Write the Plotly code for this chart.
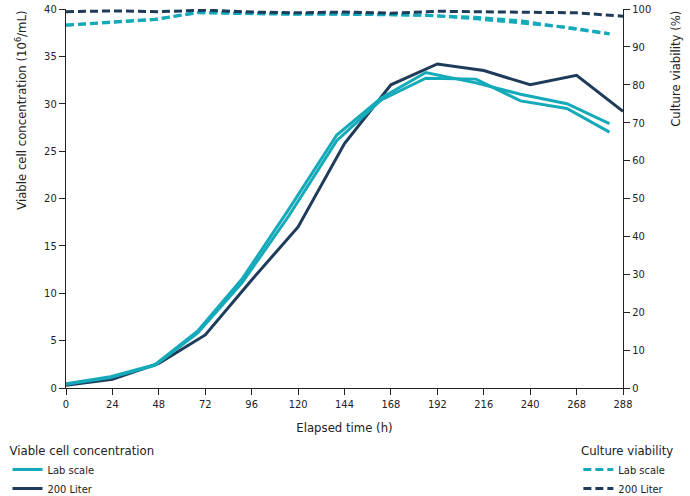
import plotly.graph_objects as go

# ---- data ----
time_200L = [0, 24, 48, 72, 96, 120, 144, 168, 192, 216, 240, 264, 288]
time_lab = [0, 23, 46, 68, 91, 115, 140, 163, 186, 212, 235, 259, 281]

vcc_200L = [0.3, 0.92, 2.6, 5.6, 11.4, 17.0, 25.8, 32.0, 34.2, 33.5, 32.0, 33.0, 29.2]
vcc_lab1 = [0.45, 1.2, 2.45, 6.0, 11.5, 18.8, 26.7, 30.6, 33.3, 32.2, 31.0, 30.0, 27.9]
vcc_lab2 = [0.4, 1.1, 2.4, 5.8, 11.1, 18.1, 26.1, 30.4, 32.7, 32.6, 30.3, 29.5, 27.0]

via_200L = [99.3, 99.5, 99.3, 99.7, 99.2, 99.0, 99.2, 98.9, 99.4, 99.3, 99.2, 99.0, 98.1]
via_lab1 = [95.8, 96.5, 97.3, 99.1, 98.9, 98.7, 98.6, 98.5, 98.3, 97.8, 96.9, 95.0, 93.4]
via_lab2 = [95.7, 96.5, 97.2, 99.0, 98.8, 98.6, 98.7, 98.6, 98.4, 97.4, 96.3, 95.2, 93.5]

x_tickvals = [0, 24, 48, 72, 96, 120, 144, 168, 192, 216, 240, 264, 288]
x_ticktext = ["0", "24", "48", "72", "96", "120", "144", "168", "192", "216", "240", "268", "288"]

TEAL = "#14aab9"
NAVY = "#1f3b5a"
TXT = "#222222"
FONT = "DejaVu Sans Condensed, Liberation Sans Narrow, Roboto, sans-serif"
DASH = "8px,4px"

fig = go.Figure()

# viability (dashed, right axis)
fig.add_trace(go.Scatter(x=time_lab, y=via_lab2, mode="lines", yaxis="y2",
                         line=dict(color=TEAL, width=3, dash=DASH),
                         showlegend=False, hoverinfo="skip"))
fig.add_trace(go.Scatter(x=time_lab, y=via_lab1, mode="lines", yaxis="y2",
                         line=dict(color=TEAL, width=3, dash=DASH),
                         name="Lab scale", legend="legend2", legendgroup="v1"))
fig.add_trace(go.Scatter(x=time_200L, y=via_200L, mode="lines", yaxis="y2",
                         line=dict(color=NAVY, width=3, dash=DASH),
                         name="200 Liter", legend="legend2", legendgroup="v2"))

# viable cell concentration (solid, left axis)
fig.add_trace(go.Scatter(x=time_200L, y=vcc_200L, mode="lines",
                         line=dict(color=NAVY, width=3),
                         name="200 Liter", legend="legend", legendrank=2, legendgroup="c2"))
fig.add_trace(go.Scatter(x=time_lab, y=vcc_lab2, mode="lines",
                         line=dict(color=TEAL, width=3),
                         showlegend=False))
fig.add_trace(go.Scatter(x=time_lab, y=vcc_lab1, mode="lines",
                         line=dict(color=TEAL, width=3),
                         name="Lab scale", legend="legend", legendrank=1, legendgroup="c1"))

axis_common = dict(showline=True, linecolor=TXT, linewidth=1.2, ticks="outside",
                   ticklen=6, tickwidth=1.2, tickcolor=TXT, showgrid=False,
                   zeroline=False, tickfont=dict(size=11, color=TXT, family=FONT))

fig.update_layout(
    width=690, height=496,
    margin=dict(l=66, r=67, t=9, b=108, autoexpand=False),
    paper_bgcolor="white", plot_bgcolor="white",
    font=dict(family=FONT, color=TXT, size=12),
    xaxis=dict(range=[0, 288], tickvals=x_tickvals, ticktext=x_ticktext,
               title=dict(text="Elapsed time (h)", font=dict(size=13, color=TXT), standoff=12),
               **axis_common),
    yaxis=dict(range=[0, 40], tickvals=[0, 5, 10, 15, 20, 25, 30, 35, 40], **axis_common),
    yaxis2=dict(range=[0, 100], overlaying="y", side="right",
                tickvals=[0, 10, 20, 30, 40, 50, 60, 70, 80, 90, 100], **axis_common),
    legend=dict(x=-0.105, xanchor="left", y=-0.132, yanchor="top",
                traceorder="grouped", bgcolor="rgba(0,0,0,0)",
                title=dict(text="Viable cell concentration", font=dict(size=13, color=TXT)),
                font=dict(size=11, color=TXT), itemwidth=30, tracegroupgap=0),
    legend2=dict(x=1.094, xanchor="right", y=-0.132, yanchor="top",
                 traceorder="grouped", bgcolor="rgba(0,0,0,0)",
                 title=dict(text="Culture viability", font=dict(size=13, color=TXT), side="top right"),
                 font=dict(size=11, color=TXT), itemwidth=30, tracegroupgap=0),
    annotations=[
        dict(text="Viable cell concentration (10<sup>6</sup>/mL)", xref="paper", yref="paper",
             x=-0.082, y=1.0, xanchor="center", yanchor="top", textangle=-90,
             showarrow=False, font=dict(size=13, color=TXT)),
        dict(text="Culture viability (%)", xref="paper", yref="paper",
             x=1.093, y=1.0, xanchor="center", yanchor="top", textangle=-90,
             showarrow=False, font=dict(size=13, color=TXT)),
    ],
)

fig.write_html("out.html", config={"displayModeBar": False},
               post_script="document.body.style.margin='0px';")
